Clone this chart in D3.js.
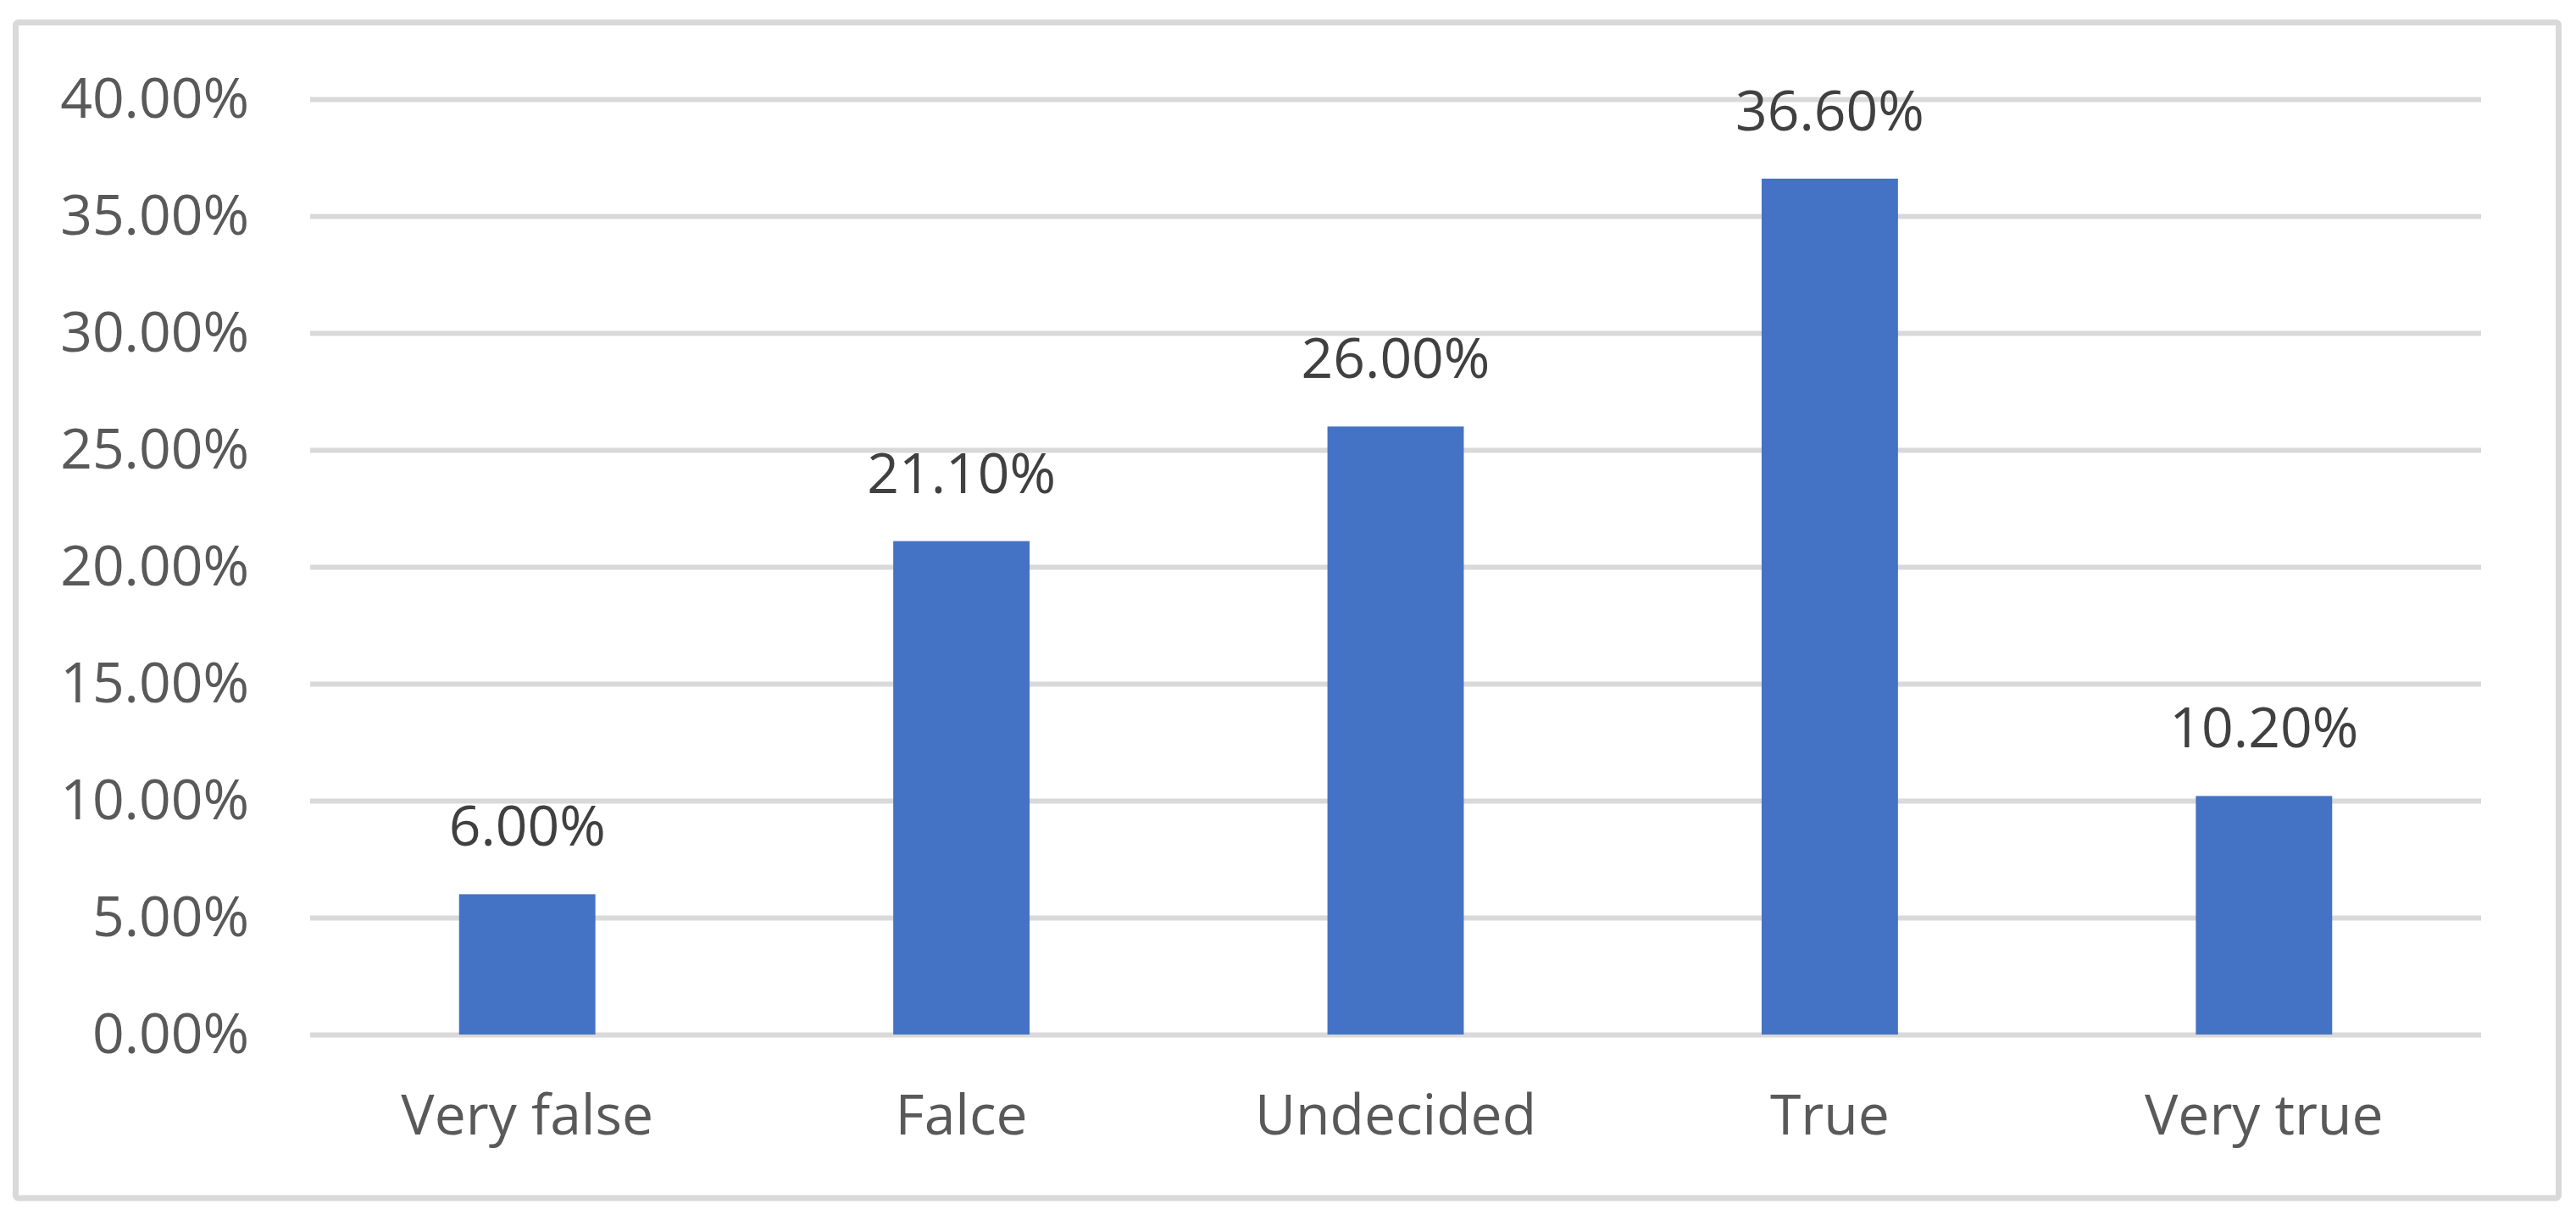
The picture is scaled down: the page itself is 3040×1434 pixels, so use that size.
<!DOCTYPE html>
<html>
<head>
<meta charset="utf-8">
<script src="https://cdn.jsdelivr.net/npm/d3@7"></script>
<style>
  body { margin: 0; background: #fff; }
  text { font-family: "Open Sans", "Noto Sans", sans-serif; }
</style>
</head>
<body>
<div id="chart"></div>
<script>
const categories = ['Very false', 'Falce', 'Undecided', 'True', 'Very true'];
const values = [6.0, 21.1, 26.0, 36.6, 10.2];
const yTicks = [0, 5, 10, 15, 20, 25, 30, 35, 40];

const barColor = '#4472c4';
const gridColor = '#d9d9d9';

function drawChart() {
    var width = 3040, height = 1434;
    var margin = {top: 117, right: 112, bottom: 213, left: 366};

    var svg = d3.select('#chart').append('svg')
        .attr('width', width)
        .attr('height', height);

    // chart frame
    svg.append('rect')
        .attr('x', 18.5).attr('y', 26.5)
        .attr('width', 3001).attr('height', 1387.5)
        .attr('rx', 3)
        .style('fill', '#fff')
        .style('stroke', gridColor)
        .style('stroke-width', 7);

    var x = d3.scaleBand()
        .domain(categories)
        .range([margin.left, width - margin.right])
        .paddingInner(0.686)
        .paddingOuter(0.343);

    var y = d3.scaleLinear()
        .domain([0, 40])
        .range([height - margin.bottom, margin.top]);

    // gridlines + y labels
    var yAxis = svg.append('g')
        .attr('transform', 'translate(' + margin.left + ',0)')
        .call(d3.axisLeft(y)
            .tickValues(yTicks)
            .tickSize(-(width - margin.left - margin.right))
            .tickPadding(72)
            .tickFormat(function(d) { return d.toFixed(2) + '%'; }));
    yAxis.select('.domain').remove();
    yAxis.selectAll('.tick line')
        .style('stroke', gridColor)
        .style('stroke-width', 6);
    yAxis.selectAll('.tick text')
        .style('font-size', '66px')
        .style('fill', '#595959')
        .attr('dy', '0.33em');

    // bars
    svg.selectAll('.bar')
        .data(values)
        .enter().append('rect')
        .attr('class', 'bar')
        .attr('x', function(d, i) { return x(categories[i]); })
        .attr('width', x.bandwidth())
        .attr('y', function(d) { return y(d); })
        .attr('height', function(d) { return y(0) - y(d); })
        .style('fill', barColor);

    // data labels
    svg.selectAll('.label')
        .data(values)
        .enter().append('text')
        .attr('class', 'label')
        .attr('x', function(d, i) { return x(categories[i]) + x.bandwidth() / 2; })
        .attr('y', function(d) { return y(d) - 57; })
        .attr('text-anchor', 'middle')
        .style('font-size', '66px')
        .style('fill', '#404040')
        .text(function(d) { return d.toFixed(2) + '%'; });

    // x labels
    var xAxis = svg.append('g')
        .attr('transform', 'translate(0,' + y(0) + ')')
        .call(d3.axisBottom(x).tickSize(0).tickPadding(0));
    xAxis.select('.domain').remove();
    xAxis.selectAll('.tick text')
        .attr('dy', null)
        .attr('y', 118)
        .style('font-size', '66px')
        .style('fill', '#595959');
}

drawChart();
</script>
</body>
</html>
